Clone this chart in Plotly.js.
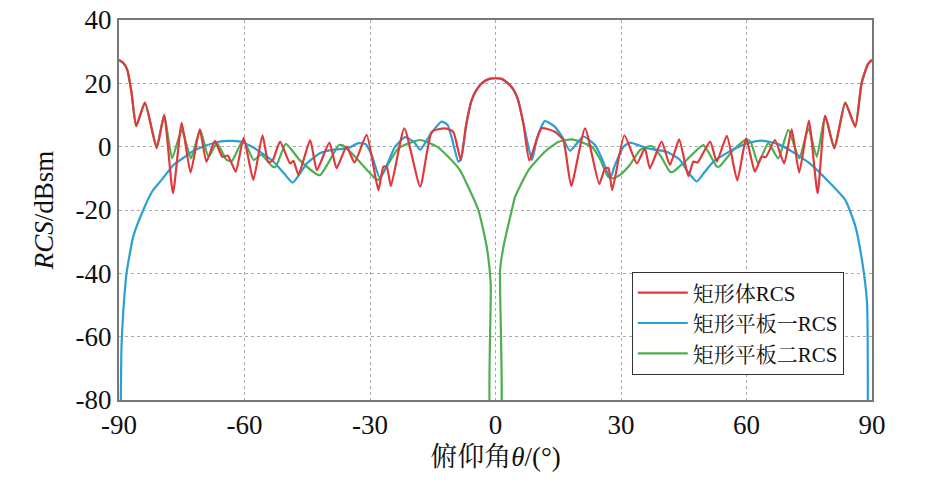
<!DOCTYPE html>
<html>
<head>
<meta charset="utf-8">
<script src="https://cdn.plot.ly/plotly-3.0.1.min.js"></script>
<style>
  html, body { margin: 0; padding: 0; background: #fff; }
  #plot { width: 944px; height: 492px; }
</style>
</head>
<body>
<div id="plot"></div>
<script>
// 矩形体RCS
var redAngle = [-90, -89, -88, -87, -85.9, -83.8, -81, -79.2, -77.1, -75, -72.9, -70.7, -69.1, -67.1,
  -65.3, -64, -62.1, -60.2, -57.9, -55.7, -54.3, -53.3, -51.5, -49.1, -48.3, -47.1, -44.3, -42.7,
  -39.7, -38, -35.6, -33.7, -30.8, -28, -26.8, -26, -25, -21.8, -18, -15.2, -12.1, -10.1, -8.3,
  -7, -5.7, -4.5, -3.3, -1.5, 0, 1.5, 3, 4.3, 5.4, 6.7, 8.1, 11, 14.2, 16.2, 18.1, 21.4, 24.8, 26.2, 27, 27.9, 30.8,
  33.8, 35.7, 36.9, 39.7, 41.7, 43.9, 46.1, 47.3, 48.3, 51.3, 52.9, 55.3, 57.8, 59.9, 62, 63.6,
  64.6, 66.8, 69, 70.8, 72.6, 74.9, 77, 78.8, 81, 83.6, 86, 87.5, 89, 90];
var redRcs = [27.4, 26.5, 24.2, 17, 6.5, 13.9, -0.5, 10, -14.7, 7.5, -8.2, 5.5, -4.8, 1.8,
  -3.2, -2.8, -7.9, 2.8, -10.5, 3.6, -4.9, -4.4, 1.6, -5.3, -4.5, -8.9, 2.1, -7.4,
  1.3, -6.8, 0, -5, 3.7, -13.7, -6.3, -6.3, -12.4, 5.8, -12.6, 4.7, 5.8, 4.7, -4.2,
  7, 14.7, 18, 20, 21.4, 21.6, 21.4, 20, 18, 14.7, 7, -4.4, 5.8, 4.7, 2.1, -12.4, 5.8, -11.8, -6.8, -6.8, -13.7, 3.6,
  -5.3, -0.5, -6.8, 1.6, -5.8, 2.3, -9.3, -4.7, -5, 1.6, -4.7, 3.4, -10.7, 2.6, -7.9, -3.2,
  -3.3, 2.1, -5.3, 5.5, -8.2, 8.2, -14.7, 9.7, -0.5, 13.9, 6.3, 20, 26, 27.4];

// 矩形平板一RCS
var blueAngle = [-89.6, -89.4, -89, -88.2, -86.6, -84.2, -82, -79.8, -77, -74, -71.8, -67, -64,
  -61, -59, -57, -53.1, -50.5, -48.5, -47, -45.1, -42, -39, -37.2, -35, -32.8, -31, -29.5,
  -27.6, -24, -21.6, -19.5, -18, -15.5, -12.9, -11.5, -10.5, -8.9, -8.3, -7, -5.7, -4.5, -3.3, -1.5, 0,
  1.5, 3, 4.3, 5.4, 6.9, 8.7, 10, 11.8, 14, 16, 17.8, 21, 23.8, 25.5, 27.4, 28.5, 30.6, 32.2, 36.2, 40.9,
  44.1, 46, 48.1, 50, 52.1, 56.9, 60.9, 63.6, 67.6, 71.6, 75.6, 79.6, 83.6, 86, 87.6, 88.8, 89];
var blueRcs = [-85, -63, -52.6, -40, -28.4, -20, -14, -10.5, -5.8, -3, -1, 1.3, 1.8,
  1.6, 0.5, -1, -4.7, -8.5, -11.4, -9, -5.3, -2.1, -1, -0.8, -0.3, 1.1, 0.8, -3,
  -10, 0, 3, 1.5, -1, 4, 7.9, 7, 3, -4.7, -4.2, 7, 14.7, 18, 20, 21.4, 21.6,
  21.4, 20, 18, 14.7, 6, -4.2, 3, 8.1, 6.5, 3, -1.3, 3.2, 0.5, -4, -10, -6, 0, 1.3, -0.5, -1.6,
  -4.2, -8, -11, -8, -4.7, -0.8, 1.3, 1.9, 0.8, -2.1, -5.8, -11, -16.8, -25, -35.8, -49, -85];

// 矩形平板二RCS
var greenAngle = [-90, -89, -88, -87, -85.9, -83.8, -81, -79.2, -77.3, -75, -72.8, -70.6, -68.6,
  -66.6, -64.3, -63, -60.3, -57.8, -56, -53.3, -52.5, -50.1, -46.7, -42, -37.5, -36.5, -34,
  -28.8, -28, -23.2, -18, -14, -11.3, -8.5, -7.3, -4.1, -2.1, -1.15, -1,
  1, 1.1, 1.9, 3.9, 4.7, 7.9, 11.8, 15, 18.2, 23, 25, 26.9, 28, 29.8, 32.1, 34.6, 37.3, 39.5,
  41.7, 42.5, 45.7, 49.7, 52.9, 53.5, 56.9, 60, 61, 62.8, 65.2, 67.6, 70, 72.6, 74.8, 76.8,
  78.8, 81, 83.6, 86, 87.5, 89, 90];
var greenRcs = [27.4, 26.5, 24.2, 17, 6.5, 13.9, 0, 10, -3.7, 5.3, -3.7, 5.3, -3.2,
  1.1, -4.2, -4.5, 2.1, -4.2, -2.5, -6.3, -6.3, 0.9, -4.4, -9, 0.4, 0.4, -2.6,
  -10, -10.5, -0.5, 2.1, 0, -3.2, -7.4, -10.5, -20, -31.6, -43.2, -90,
  -90, -39, -31.6, -20, -15.8, -7.4, -1.6, 1.5, 2.3, 0, -4, -9.5, -10, -8.9, -5.8, -1, 0.2, -3,
  -7.9, -7.9, -4.2, 0.5, -6.3, -6.3, -1, 2.3, 1.5, -5.3, 1.1, -3.7, 5.3, -3.7, 5.8, -3.2,
  9.7, -0.5, 13.9, 6.3, 20, 26, 27.4];

var xTicks = [-90, -60, -30, 0, 30, 60, 90];
var yTicks = [-80, -60, -40, -20, 0, 20, 40];

var serif = 'Liberation Serif, Times New Roman, Noto Serif CJK SC, Noto Sans CJK SC, serif';

var data = [
  {x: greenAngle, y: greenRcs, mode: 'lines', name: '矩形平板二RCS',
   line: {color: '#4caf50', width: 2.2, shape: 'spline', smoothing: 0.5}},
  {x: blueAngle, y: blueRcs, mode: 'lines', name: '矩形平板一RCS',
   line: {color: '#2b9fd3', width: 2.2, shape: 'spline', smoothing: 0.5}},
  {x: redAngle, y: redRcs, mode: 'lines', name: '矩形体RCS',
   line: {color: '#e0393c', width: 2.2, shape: 'spline', smoothing: 0.5}}
];

var layout = {
  width: 944,
  height: 492,
  margin: {l: 119, r: 72, t: 20, b: 92},
  paper_bgcolor: '#fff',
  plot_bgcolor: '#fff',
  font: {family: serif, size: 26, color: '#111'},
  showlegend: true,
  legend: {
    x: 0.681, y: 0.338, xanchor: 'left', yanchor: 'top',
    traceorder: 'reversed',
    bordercolor: '#333', borderwidth: 1, bgcolor: '#fff',
    font: {family: serif, size: 21, color: '#111'},
    itemwidth: 50,
    tracegroupgap: 0
  },
  xaxis: {
    range: [-90, 90],
    tickvals: xTicks,
    ticktext: xTicks.map(String),
    ticks: '',
    showgrid: true, gridcolor: '#aaa', griddash: 'dot', gridwidth: 1,
    zeroline: false,
    showline: true, mirror: true, linecolor: '#777', linewidth: 2,
    tickfont: {size: 27},
    title: {text: '俯仰角<i>θ</i>/(°)', font: {size: 27}, standoff: 8}
  },
  yaxis: {
    range: [-80, 40],
    tickvals: yTicks,
    ticktext: yTicks.map(String),
    ticks: '',
    showgrid: true, gridcolor: '#aaa', griddash: 'dot', gridwidth: 1,
    zeroline: false,
    showline: true, mirror: true, linecolor: '#777', linewidth: 2,
    tickfont: {size: 27},
    title: {text: '<i>RCS</i>/dBsm', font: {size: 27}, standoff: 14}
  }
};

Plotly.newPlot('plot', data, layout, {displayModeBar: false, staticPlot: true});
</script>
</body>
</html>
